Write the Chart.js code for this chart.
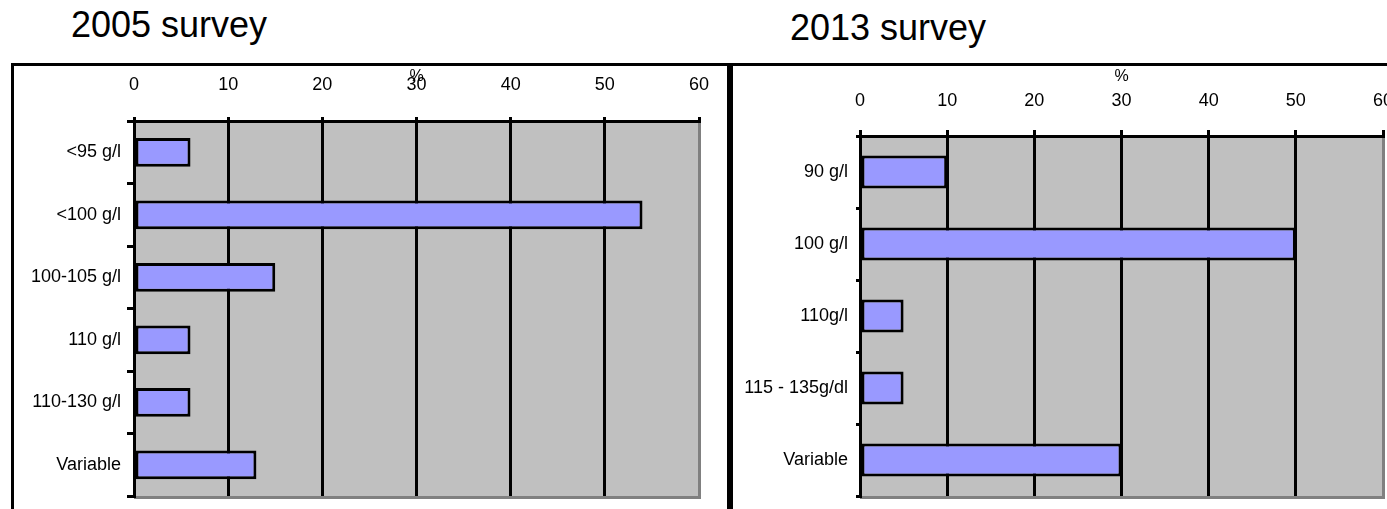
<!DOCTYPE html>
<html>
<head>
<meta charset="utf-8">
<script src="https://cdn.jsdelivr.net/npm/chart.js@4.4.1/dist/chart.umd.min.js"></script>
<style>
  html, body { margin: 0; padding: 0; background: #fff; }
  body { width: 1387px; height: 509px; position: relative; overflow: hidden; font-family: "Liberation Sans", Arial, sans-serif; }
  .title { position: absolute; font-size: 36px; line-height: 36px; color: #000; white-space: nowrap; }
  .frame { position: absolute; box-sizing: border-box; }
  canvas { position: absolute; }
</style>
</head>
<body>
<div class="title" style="left:71px; top:7px;">2005 survey</div>
<div class="title" style="left:790px; top:10px;">2013 survey</div>
<div class="frame" style="left:11px; top:63px; width:719px; height:460px; border-top:3px solid #000; border-left:3px solid #000; border-right:3px solid #000;"></div>
<div class="frame" style="left:730px; top:63px; width:680px; height:460px; border-top:3px solid #000; border-left:3px solid #000;"></div>
<canvas id="c2005" width="712" height="442" style="left:15px; top:67px;"></canvas>
<canvas id="c2013" width="654" height="442" style="left:733px; top:67px;"></canvas>
<script>
// Haemoglobin thresholds reported in each survey, share of respondents (%)
const categories2005 = ['<95 g/l', '<100 g/l', '100-105 g/l', '110 g/l', '110-130 g/l', 'Variable'];
const values2005 = [6, 54, 15, 6, 6, 13];

const categories2013 = ['90 g/l', '100 g/l', '110g/l', '115 - 135g/dl', 'Variable'];
const values2013 = [10, 50, 5, 5, 30];

const percentTicks = [0, 10, 20, 30, 40, 50, 60];
const axisTitle = '%';

const FONT = "'Liberation Sans', Arial, sans-serif";

// Grey plot background with a darker shadow edge along the bottom
const plotFrame = {
  id: 'plotFrame',
  beforeDraw(chart) {
    const { ctx, chartArea: a } = chart;
    ctx.save();
    ctx.fillStyle = '#c0c0c0';
    ctx.fillRect(a.left, a.top, a.right - a.left, a.bottom - a.top);
    ctx.fillStyle = '#808080';
    ctx.fillRect(a.left, a.bottom, a.right - a.left + 2, 3);
    ctx.restore();
  }
};

function makeChart(id, labels, values, g) {
  const maxTick = percentTicks[percentTicks.length - 1];
  return new Chart(document.getElementById(id), {
    type: 'bar',
    data: {
      labels: labels,
      datasets: [{
        data: values,
        backgroundColor: '#9999ff',
        borderColor: '#000',
        borderWidth: 3,
        borderSkipped: false,
        barPercentage: 0.46,
        categoryPercentage: 1
      }]
    },
    plugins: [plotFrame],
    options: {
      indexAxis: 'y',
      responsive: false,
      animation: false,
      events: [],
      layout: { padding: { left: 0, top: 0, right: g.padRight, bottom: g.padBottom } },
      plugins: { legend: { display: false }, tooltip: { enabled: false } },
      scales: {
        x: {
          position: 'top',
          min: percentTicks[0],
          max: maxTick,
          afterBuildTicks(scale) { scale.ticks = percentTicks.map(v => ({ value: v })); },
          afterFit(scale) {
            scale.height = g.xHeight;
            scale.paddingLeft = 0;
            scale.paddingRight = 0;
          },
          grid: {
            color: c => (c.tick && c.tick.value === maxTick) ? '#808080' : '#000',
            tickColor: '#000',
            lineWidth: 3,
            tickWidth: 3,
            tickLength: g.xTickLength
          },
          border: { display: true, color: '#000', width: 3 },
          ticks: {
            padding: g.xTickPadding,
            color: '#000',
            maxRotation: 0,
            autoSkip: false,
            font: { family: FONT, size: 18 }
          },
          title: {
            display: true,
            text: axisTitle,
            color: '#000',
            padding: { top: 0, bottom: 0 },
            font: { family: FONT, size: 16 }
          }
        },
        y: {
          afterFit(scale) {
            scale.width = g.yWidth;
            scale.paddingTop = 0;
            scale.paddingBottom = 0;
          },
          grid: {
            offset: true,
            drawOnChartArea: false,
            color: '#000',
            lineWidth: 3,
            tickLength: g.yTickLength
          },
          border: { display: true, color: '#000', width: 3 },
          ticks: {
            padding: g.yTickPadding,
            color: '#000',
            autoSkip: false,
            font: { family: FONT, size: 18 }
          }
        }
      }
    }
  });
}

makeChart('c2005', categories2005, values2005, {
  yWidth: 119, xHeight: 54, padRight: 28, padBottom: 13,
  xTickLength: 4, xTickPadding: 21, yTickLength: 7, yTickPadding: 6
});
makeChart('c2013', categories2013, values2013, {
  yWidth: 127, xHeight: 69, padRight: 4, padBottom: 13,
  xTickLength: 6, xTickPadding: 18, yTickLength: 4, yTickPadding: 8
});
</script>
</body>
</html>
